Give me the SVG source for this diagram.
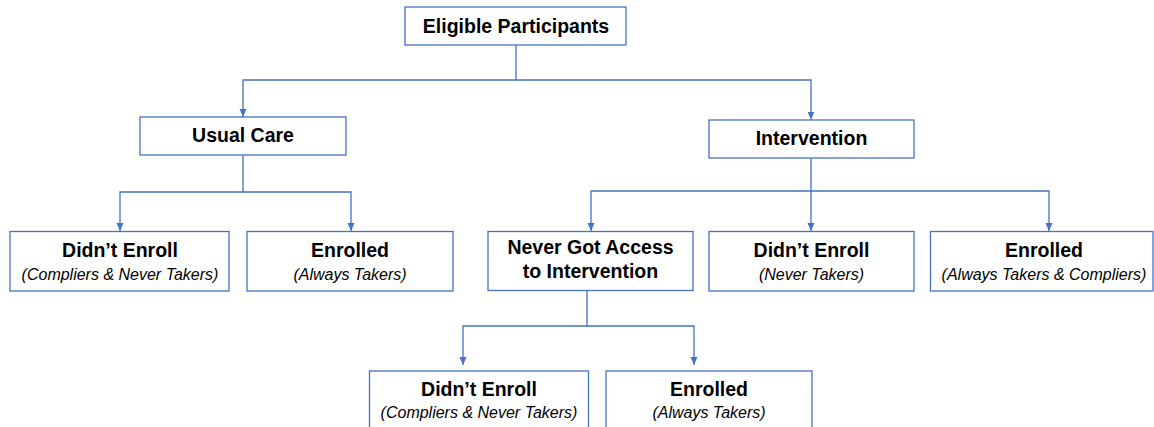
<svg xmlns="http://www.w3.org/2000/svg" width="1154" height="427" viewBox="0 0 1154 427">
  <style>
    .box { fill: #ffffff; stroke: #4472C4; stroke-width: 1.3; }
    .conn { fill: none; stroke: #4472C4; stroke-width: 1.3; }
    .t { font-family: "Liberation Sans", Arial, sans-serif; font-weight: bold; font-size: 19.5px; fill: #000000; text-anchor: middle; }
    .s { font-family: "Liberation Sans", Arial, sans-serif; font-style: italic; font-size: 16px; fill: #000000; text-anchor: middle; }
  </style>
  <defs>
    <marker id="arr" markerUnits="userSpaceOnUse" markerWidth="8" markerHeight="8" refX="8" refY="4" orient="auto">
      <path d="M0,0.5 L8,4 L0,7.5 z" fill="#4472C4"/>
    </marker>
  </defs>
  <rect width="1154" height="427" fill="#ffffff"/>

  <g id="connectors">
    <path class="conn" d="M516,45 V80 H243 V117" marker-end="url(#arr)"/>
    <path class="conn" d="M516,80 H811 V119.5" marker-end="url(#arr)"/>
    <path class="conn" d="M243,155 V192 H120 V231" marker-end="url(#arr)"/>
    <path class="conn" d="M243,192 H351 V231" marker-end="url(#arr)"/>
    <path class="conn" d="M811,158 V231" marker-end="url(#arr)"/>
    <path class="conn" d="M811,191 H591 V231" marker-end="url(#arr)"/>
    <path class="conn" d="M811,191 H1049 V231" marker-end="url(#arr)"/>
    <path class="conn" d="M587,290 V326 H463 V365" marker-end="url(#arr)"/>
    <path class="conn" d="M587,326 H694 V365" marker-end="url(#arr)"/>
  </g>

  <g id="eligible">
    <rect class="box" x="405" y="7" width="221" height="38"/>
    <text class="t" x="516" y="33">Eligible Participants</text>
  </g>
  <g id="usual-care">
    <rect class="box" x="140" y="117" width="206" height="38"/>
    <text class="t" x="243" y="142">Usual Care</text>
  </g>
  <g id="intervention">
    <rect class="box" x="709" y="120" width="205" height="38"/>
    <text class="t" x="811.5" y="145">Intervention</text>
  </g>
  <g id="uc-didnt-enroll">
    <rect class="box" x="10" y="231.5" width="219" height="59.5"/>
    <text class="t" x="120" y="257">Didn’t Enroll</text>
    <text class="s" x="120" y="280">(Compliers &amp; Never Takers)</text>
  </g>
  <g id="uc-enrolled">
    <rect class="box" x="247" y="231.5" width="206" height="59.5"/>
    <text class="t" x="350" y="257">Enrolled</text>
    <text class="s" x="350" y="280">(Always Takers)</text>
  </g>
  <g id="never-got-access">
    <rect class="box" x="488" y="231.5" width="205" height="59"/>
    <text class="t" x="590.5" y="254">Never Got Access</text>
    <text class="t" x="590.5" y="278">to Intervention</text>
  </g>
  <g id="int-didnt-enroll">
    <rect class="box" x="709" y="231.5" width="205" height="59.5"/>
    <text class="t" x="811.5" y="257">Didn’t Enroll</text>
    <text class="s" x="811.5" y="280">(Never Takers)</text>
  </g>
  <g id="int-enrolled">
    <rect class="box" x="930.5" y="231.5" width="222.5" height="59.5"/>
    <text class="t" x="1044" y="257">Enrolled</text>
    <text class="s" x="1044" y="280">(Always Takers &amp; Compliers)</text>
  </g>
  <g id="nga-didnt-enroll">
    <rect class="box" x="369.5" y="371" width="219" height="70"/>
    <text class="t" x="479" y="396">Didn’t Enroll</text>
    <text class="s" x="479" y="418">(Compliers &amp; Never Takers)</text>
  </g>
  <g id="nga-enrolled">
    <rect class="box" x="606" y="371" width="206" height="70"/>
    <text class="t" x="709" y="396">Enrolled</text>
    <text class="s" x="709" y="418">(Always Takers)</text>
  </g>
</svg>
